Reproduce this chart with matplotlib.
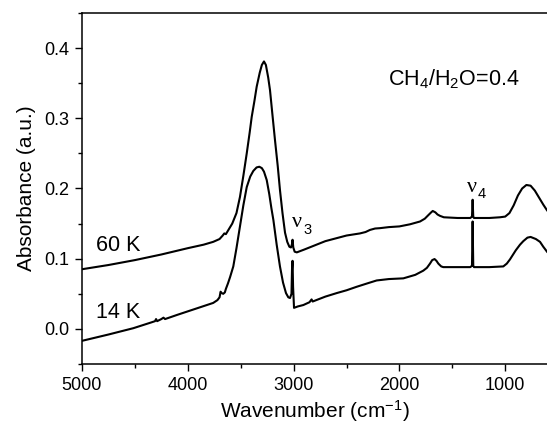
import matplotlib
matplotlib.use("Agg")
import matplotlib.pyplot as plt
from matplotlib.ticker import MultipleLocator, FormatStrFormatter
from matplotlib.transforms import offset_copy

# ---------------- data ----------------
wn_60K = [5000, 4750, 4500, 4250, 4000, 3850, 3760, 3700, 3670, 3655, 3640, 3620,
          3580, 3540, 3507, 3475, 3443, 3415, 3396, 3370, 3349, 3320, 3300, 3280,
          3262, 3240, 3223, 3200, 3176, 3150, 3129, 3105, 3081, 3060, 3040, 3025,
          3015, 3010, 3003, 2990, 2970, 2900, 2800, 2700, 2600, 2500, 2373, 2320,
          2278, 2230, 2184, 2100, 2000, 1900, 1805, 1760, 1727, 1700, 1685, 1660,
          1640, 1616, 1580, 1450, 1330, 1314, 1308, 1302, 1295, 1150, 1050, 1000,
          960, 920, 880, 840, 800, 760, 720, 680, 640, 605]
abs_60K = [0.085, 0.091, 0.098, 0.106, 0.115, 0.120, 0.124, 0.128, 0.133, 0.136, 0.135, 0.140,
           0.150, 0.165, 0.188, 0.218, 0.250, 0.280, 0.302, 0.325, 0.345, 0.365, 0.376, 0.381,
           0.376, 0.358, 0.340, 0.305, 0.269, 0.232, 0.198, 0.165, 0.137, 0.124, 0.117, 0.116,
           0.121, 0.127, 0.116, 0.110, 0.109, 0.113, 0.119, 0.125, 0.129, 0.133, 0.136, 0.138,
           0.141, 0.143, 0.1435, 0.145, 0.146, 0.149, 0.153, 0.157, 0.162, 0.166, 0.168, 0.166,
           0.163, 0.161, 0.159, 0.158, 0.158, 0.160, 0.184, 0.160, 0.158, 0.158, 0.159, 0.160,
           0.165, 0.176, 0.190, 0.200, 0.205, 0.204, 0.197, 0.187, 0.177, 0.169]

wn_14K = [5000, 4750, 4515, 4350, 4310, 4300, 4290, 4250, 4230, 4215, 4100, 4000,
          3880, 3760, 3720, 3700, 3690, 3680, 3665, 3650, 3640, 3620, 3600, 3570,
          3540, 3507, 3475, 3443, 3410, 3381, 3350, 3324, 3300, 3280, 3254, 3230,
          3210, 3191, 3160, 3129, 3100, 3072, 3050, 3034, 3020, 3015, 3010, 3005,
          2996, 2960, 2908, 2850, 2830, 2820, 2700, 2593, 2500, 2404, 2300, 2215,
          2100, 1963, 1850, 1774, 1740, 1711, 1690, 1668, 1650, 1632, 1605, 1585,
          1450, 1330, 1314, 1308, 1302, 1295, 1150, 1018, 985, 955, 900, 860,
          829, 790, 760, 710, 671, 640, 605]
abs_14K = [-0.017, -0.008, 0.001, 0.009, 0.011, 0.014, 0.011, 0.014, 0.016, 0.014, 0.020, 0.025,
           0.031, 0.037, 0.041, 0.045, 0.053, 0.051, 0.050, 0.052, 0.057, 0.065, 0.074, 0.089,
           0.115, 0.146, 0.176, 0.202, 0.217, 0.225, 0.230, 0.231, 0.229, 0.224, 0.212, 0.192,
           0.172, 0.155, 0.120, 0.089, 0.066, 0.051, 0.045, 0.044, 0.050, 0.085, 0.097, 0.060,
           0.030, 0.032, 0.034, 0.038, 0.042, 0.039, 0.046, 0.051, 0.055, 0.060, 0.065, 0.069,
           0.071, 0.072, 0.077, 0.083, 0.087, 0.093, 0.098, 0.0995, 0.097, 0.093, 0.089, 0.088,
           0.088, 0.088, 0.090, 0.153, 0.090, 0.088, 0.088, 0.089, 0.093, 0.099, 0.112, 0.120,
           0.125, 0.130, 0.131, 0.128, 0.124, 0.117, 0.110]

x_ticks = [5000, 4000, 3000, 2000, 1000]
y_ticks = [0.0, 0.1, 0.2, 0.3, 0.4]

# ---------------- style ----------------
plt.rcParams['font.family'] = ['Liberation Sans', 'DejaVu Sans']
plt.rcParams['mathtext.fontset'] = 'custom'
plt.rcParams['mathtext.rm'] = 'Liberation Sans'
plt.rcParams['mathtext.it'] = 'Liberation Sans:italic'
plt.rcParams['mathtext.bf'] = 'Liberation Sans:bold'

fig = plt.figure(figsize=(5.47, 4.26), dpi=100)
ax = fig.add_axes([82 / 547, 1 - 364 / 426, 465 / 547, (364 - 13) / 426])

ax.plot(wn_60K, abs_60K, color='black', lw=1.5)
ax.plot(wn_14K, abs_14K, color='black', lw=1.5)

ax.set_xlim(5000, 605)
ax.set_ylim(-0.05, 0.45)
ax.set_xticks(x_ticks)
ax.set_yticks(y_ticks)
ax.xaxis.set_minor_locator(MultipleLocator(500))
ax.yaxis.set_minor_locator(MultipleLocator(0.05))
ax.yaxis.set_major_formatter(FormatStrFormatter('%.1f'))
ax.tick_params(which='major', direction='out', length=5, width=1, labelsize=13, pad=4)
ax.tick_params(which='minor', direction='out', length=2.7, width=1)
for s in ax.spines.values():
    s.set_linewidth(1.1)
ax.spines['right'].set_visible(False)

ax.set_xlabel('Wavenumber (cm$^{-1}$)', fontsize=15, labelpad=3)
ax.set_ylabel('Absorbance (a.u.)', fontsize=15, labelpad=6)

# annotations
ax.text(4870, 0.119, '60 K', fontsize=15.5, va='center', ha='left')
ax.text(4870, 0.024, '14 K', fontsize=15.5, va='center', ha='left')
ax.text(2110, 0.355, 'CH$_4$/H$_2$O=0.4', fontsize=15.5, va='center', ha='left')

def nu_label(x, y, sub):
    ax.text(x, y, '\u03bd', fontsize=16, family='Liberation Serif', va='center', ha='left')
    tr = offset_copy(ax.transData, fig=fig, x=8, y=-5, units='points')
    ax.text(x, y, sub, fontsize=10.5, va='center', ha='left', transform=tr)

nu_label(3015, 0.151, '3')
nu_label(1362, 0.202, '4')

fig.savefig('out.png', dpi=100)
